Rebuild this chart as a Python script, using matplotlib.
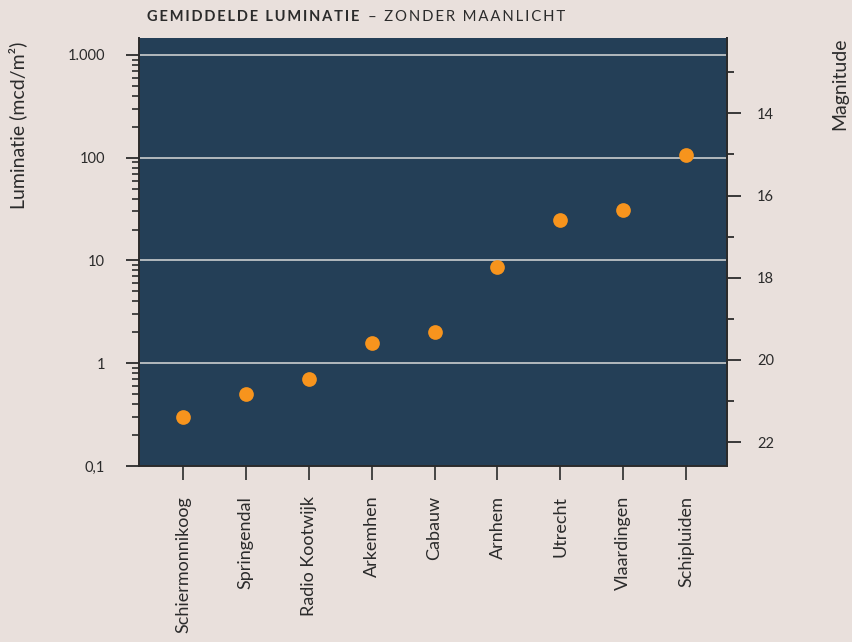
import matplotlib
matplotlib.use("Agg")
import matplotlib.pyplot as plt
from matplotlib.ticker import MultipleLocator, LogLocator, NullFormatter
import numpy as np

plt.rcParams['font.family'] = ['Lato', 'DejaVu Sans']

# data
locaties = ["Schiermonnikoog", "Springendal", "Radio Kootwijk", "Arkemhen", "Cabauw",
            "Arnhem", "Utrecht", "Vlaardingen", "Schipluiden"]
luminatie = [0.30, 0.50, 0.71, 1.56, 2.0, 8.7, 24.5, 31, 107]
y_ticks = [0.1, 1, 10, 100, 1000]
y_labels = ["0,1", "1", "10", "100", "1.000"]
mag_ticks = [14, 16, 18, 20, 22]

bg = "#e9e0dc"
panel = "#243f57"
ink = "#2b2b2b"
orange = "#f7941d"

fig = plt.figure(figsize=(8.52, 6.42), dpi=100, facecolor=bg)
ax = fig.add_axes([139/852, 1-466/642, (727-139)/852, (466-38)/642])
ax.set_facecolor(panel)

x = np.arange(len(locaties))
ax.scatter(x, luminatie, s=112, color=orange, zorder=3, linewidths=0)

ylo, yhi = 0.1, 1462
ax.set_yscale('log')
ax.set_ylim(ylo, yhi)
ax.set_xlim(-0.70, 8.65)
ax.set_yticks(y_ticks, y_labels)
ax.yaxis.set_minor_locator(LogLocator(base=10, subs=np.arange(2, 10)))
ax.yaxis.set_minor_formatter(NullFormatter())
for t in y_ticks[1:]:
    ax.axhline(t, color="#d9d9d9", lw=1.1, zorder=1)

ax.set_xticks(x, locaties, rotation=90, va='top', ha='center')

ax.spines['top'].set_visible(False)
for s in ['left', 'bottom', 'right']:
    ax.spines[s].set_color(ink)
    ax.spines[s].set_linewidth(1.4)

ax.tick_params(axis='y', which='major', length=9.4, width=1.3, color=ink,
               labelcolor=ink, labelsize=10.5, pad=15)
ax.tick_params(axis='y', which='minor', length=5, width=1.2, color=ink)
ax.tick_params(axis='x', which='major', length=10, width=1.2, color=ink,
               labelcolor=ink, labelsize=13, pad=11.5)

# magnitude axis (mag/arcsec^2), linear in log10 of luminance
def to_mag(L):
    return 20.08 - 2.5 * np.log10(L)

ax2 = ax.twinx()
ax2.set_ylim(to_mag(ylo), to_mag(yhi))
ax2.set_yticks(mag_ticks)
ax2.yaxis.set_minor_locator(MultipleLocator(1))
for s in ['top', 'left', 'bottom']:
    ax2.spines[s].set_visible(False)
ax2.spines['right'].set_color(ink)
ax2.spines['right'].set_linewidth(1.4)
ax2.tick_params(axis='y', which='major', length=10, width=1.3, color=ink,
                labelcolor=ink, labelsize=10.5, pad=11.5)
ax2.tick_params(axis='y', which='minor', length=5, width=1.3, color=ink)

fig.text(18/852, 1-125/642, "Luminatie (mcd/m²)", rotation=90, ha='center', va='center',
         fontsize=14, color=ink)
fig.text(840/852, 1-84/642, "Magnitude", rotation=90, ha='center', va='center',
         fontsize=14, color=ink)

def spaced(s):
    return "\u2009".join(s)

fig.text(147/852, 1-17/642, spaced("GEMIDDELDE LUMINATIE"), fontsize=10.5, fontweight='bold',
         color=ink, ha='left', va='center')
fig.text(368/852, 1-17/642, "–  " + spaced("ZONDER MAANLICHT"), fontsize=10.7,
         color=ink, ha='left', va='center')

fig.savefig("out.png", dpi=100, facecolor=bg)
